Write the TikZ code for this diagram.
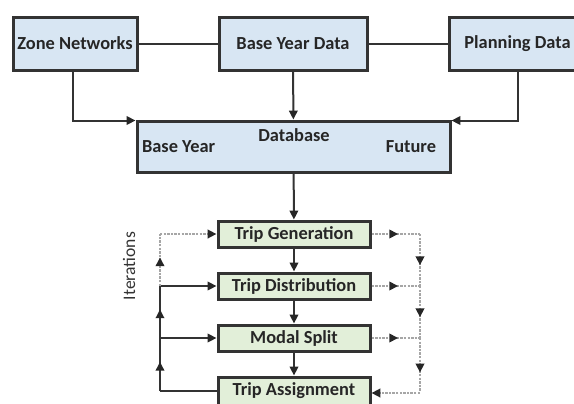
\documentclass[tikz,border=0pt]{standalone}
\usepackage{fontspec}
\setmainfont{Carlito}
\usetikzlibrary{arrows.meta,decorations.markings}

\definecolor{boxblue}{HTML}{D8E6F3}
\definecolor{boxgreen}{HTML}{E2EFD9}
\definecolor{edgegray}{HTML}{333333}

\begin{document}
\begin{tikzpicture}[x=0.5pt,y=-0.5pt,>={Triangle[length=4.4pt,width=4.2pt,color=black!85]},line width=1pt,draw=black!80,
  data node/.style={draw=edgegray,line width=1.5pt,fill=boxblue,font=\fontsize{9.2}{11}\selectfont\bfseries,text=black!85,inner sep=0pt},
  step node/.style={data node,fill=boxgreen,minimum width=76pt,minimum height=13pt},
  label text/.style={font=\fontsize{9.2}{11}\selectfont\bfseries,text=black!85,inner sep=0pt},
  dot line/.style={dash pattern=on 1.2pt off 0.6pt,draw=gray!70,line width=1.2pt},
  mid arrow/.style={postaction={decorate},decoration={markings,mark=at position #1 with {\arrow{>}}}}]
  \useasboundingbox (0,0) rectangle (574,403);

  % input data
  \node[data node,minimum width=62pt,minimum height=26.5pt] (zone) at (75,43.5) {Zone Networks};
  \node[data node,minimum width=74pt,minimum height=26.5pt] (base) at (293,43.5) {Base Year Data};
  \node[data node,minimum width=68.5pt,minimum height=26.5pt] (plan) at (517.5,43.5) {Planning Data};

  % database
  \node[data node,minimum width=156.5pt,minimum height=25.5pt] (db) at (293.5,146.5) {};
  \node[label text] (dbname) at (294,135) {Database};
  \node[label text,anchor=west] (dbbase) at (141,147) {Base Year};
  \node[label text,anchor=east] (dbfuture) at (437,147) {Future};

  % four step model
  \node[step node] (gen) at (294,234) {Trip Generation};
  \node[step node] (dist) at (294,286) {Trip Distribution};
  \node[step node] (split) at (294,338) {Modal Split};
  \node[step node,minimum height=14pt] (assign) at (294,391) {Trip Assignment};

  \node[rotate=90,font=\fontsize{8.8}{10}\selectfont,text=black!80,inner sep=0pt] (iter) at (129,266) {Iterations};

  \coordinate (rail r) at (420,0);
  \coordinate (rail l) at (160,0);

  \draw (zone) -- (base);
  \draw (base) -- (plan);
  \draw[->] (zone.south -| 73,0) |- ([yshift=-0.5pt]db.north west);
  \draw[->] (base) -- (db);
  \draw[->] (plan.south) |- ([yshift=-0.5pt]db.north east);
  \draw[->] (db) -- (gen);
  \draw[->] (gen) -- (dist);
  \draw[->] (dist) -- (split);
  \draw[->] (split) -- (assign);

  % right loop
  \draw[dot line,mid arrow=0.55] (gen.east) -- (gen.east -| rail r);
  \draw[dot line,mid arrow=0.55] (dist.east) -- (dist.east -| rail r);
  \draw[dot line,mid arrow=0.55] (split.east) -- (split.east -| rail r);
  \draw[dot line,mid arrow=0.6] (gen.east -| rail r) -- (dist.east -| rail r);
  \draw[dot line,mid arrow=0.6] (dist.east -| rail r) -- (split.east -| rail r);
  \draw[dot line,mid arrow=0.65] (split.east -| rail r) -- (assign.east -| rail r);
  \draw[dot line,->] ([yshift=-1pt]assign.east -| rail r) -- ([yshift=-1pt]assign.east);

  % left loop
  \draw (assign.west) -- (assign.west -| rail l);
  \draw[mid arrow=0.55] (assign.west -| rail l) -- (split.west -| rail l);
  \draw[mid arrow=0.55] (split.west -| rail l) -- (dist.west -| rail l);
  \draw[->] (split.west -| rail l) -- (split.west);
  \draw[->] (dist.west -| rail l) -- (dist.west);
  \draw[dot line,mid arrow=0.55] (dist.west -| rail l) -- (gen.west -| rail l);
  \draw[dot line,->] (gen.west -| rail l) -- (gen.west);
\end{tikzpicture}
\end{document}
